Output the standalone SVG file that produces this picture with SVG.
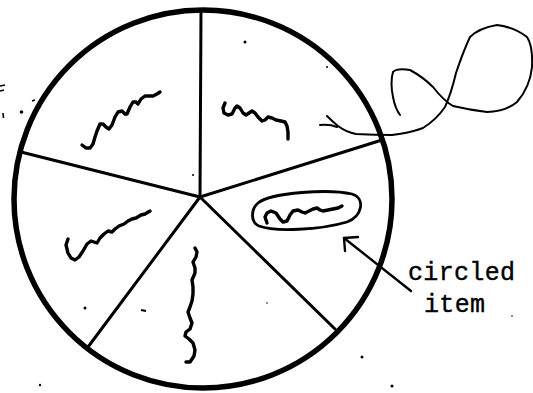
<svg xmlns="http://www.w3.org/2000/svg" width="533" height="393" viewBox="0 0 533 393">
<style>
.rim{fill:none;stroke:#000;stroke-width:5.5}
.spoke{fill:none;stroke:#000;stroke-width:3;stroke-linecap:round}
.sq{fill:none;stroke:#000;stroke-width:3.4;stroke-linecap:round;stroke-linejoin:round}
.ring{fill:none;stroke:#000;stroke-width:2.8}
.str{fill:none;stroke:#000;stroke-width:2;stroke-linecap:round;stroke-linejoin:round}
.dot{fill:#000}
.lbl{font-family:"Liberation Mono","Courier New",monospace;font-size:25px;fill:#000;stroke:#000;stroke-width:0.4}
.arr{fill:none;stroke:#000;stroke-width:2.4;stroke-linecap:round;stroke-linejoin:round}
</style>
<rect width="533" height="393" fill="#fff"/>
<g id="wheel">
<circle class="rim" cx="203" cy="199" r="189"/>
</g>
<g id="spokes">
<line class="spoke" x1="200" y1="197" x2="201" y2="10"/>
<line class="spoke" x1="200" y1="197" x2="21" y2="152"/>
<line class="spoke" x1="200" y1="197" x2="382" y2="140"/>
<line class="spoke" x1="200" y1="197" x2="88" y2="347"/>
<line class="spoke" x1="200" y1="197" x2="335" y2="329"/>
</g>
<g id="item-top-left">
<path class="sq" d="M82,145 L86,148 L90,148 L93,144 L95,137 L97,131 L100,124 L103,124 L106,127 L109,129 L112,125 L115,117 L118,112 L122,111 L125,114 L127,114 L130,107 L133,102 L136,102 L138,104 L141,99 L145,96 L149,96 L153,96 L157,94 L160,92"/>
</g>
<g id="item-top-right">
<path class="sq" d="M225,103 L223,108 L224,113 L228,115 L232,114 L235,108 L237,106 L240,108 L243,113 L246,115 L249,113 L252,111 L255,113 L258,117 L262,121 L265,120 L268,117 L272,118 L276,120 L281,121 L285,122 L287,126 L288,132 L288,139"/>
</g>
<g id="item-left">
<path class="sq" d="M68,239 L66,245 L68,253 L71,258 L75,260 L79,257 L83,251 L87,244 L91,241 L94,242 L97,243 L100,238 L104,234 L108,231 L112,232 L115,229 L119,226 L124,224 L128,221 L132,219 L136,218 L141,215 L145,214 L150,211"/>
</g>
<g id="item-bottom">
<path class="sq" d="M195,248 L197,252 L196,257 L193,262 L195,268 L195,273 L192,280 L193,287 L193,294 L192,301 L190,307 L188,312 L190,318 L192,323 L190,329 L186,332 L185,336 L189,339 L193,343 L195,350 L194,356 L190,362 L186,362"/>
</g>
<g id="item-circled">
<path class="ring" d="M258,203 C272,192 330,189 352,194 C366,198 362,217 347,222 C320,230 275,232 259,226 C250,222 251,209 258,203 Z"/>
<path class="sq" d="M267,223 L265,217 L267,213 L271,211 L276,213 L280,219 L283,222 L287,221 L290,215 L293,211 L298,210 L302,212 L305,213 L309,211 L313,209 L317,208 L320,210 L323,211 L328,210 L333,209 L338,208 L342,206"/>
</g>
<g id="string">
<path class="str" d="M327,116 Q333,122 338,126 Q346,132 356,134 Q375,135 392,135 Q410,133 423,128 Q436,120 445,107 Q451,94 456,73 Q463,52 470,37 Q479,28 497,25 Q514,27 527,37 Q533,46 532,67 Q530,87 517,102 Q505,112 487,112 Q470,110 453,106 Q444,101 433,87 Q423,77 410,70 Q397,68 393,72 Q390,82 393,97 Q395,108 400,115"/>
<path class="str" d="M320,125 Q330,124 337,127"/>
</g>
<g id="label">
<text class="lbl" x="408" y="280" textLength="107">circled</text>
<text class="lbl" x="424" y="312" textLength="61">item</text>
</g>
<g id="connectors">
<path class="arr" d="M411,291 L344,238"/>
<path class="arr" d="M345,251 L344,238 L358,237"/>
</g>
<g id="specks">
<circle class="dot" cx="245" cy="42" r="1.5"/>
<circle class="dot" cx="327" cy="67" r="1"/>
<circle class="dot" cx="21.5" cy="112" r="1.8"/>
<circle class="dot" cx="193" cy="175" r="1"/>
<circle class="dot" cx="85" cy="308" r="1.5"/>
<path d="M141,310 L146,311" stroke="#000" stroke-width="2"/>
<circle class="dot" cx="267" cy="303" r="0.8"/>
<circle class="dot" cx="362" cy="357" r="1.5"/>
<circle class="dot" cx="392" cy="386" r="1.5"/>
<circle class="dot" cx="40" cy="385" r="1.2"/>
<circle class="dot" cx="512" cy="316" r="0.8"/>
<path d="M0,86 L5,85 M0,91 L4,90 M3,113 L3.5,118 M32,101 L35,100" stroke="#000" stroke-width="1.6" fill="none"/>
</g>
</svg>
